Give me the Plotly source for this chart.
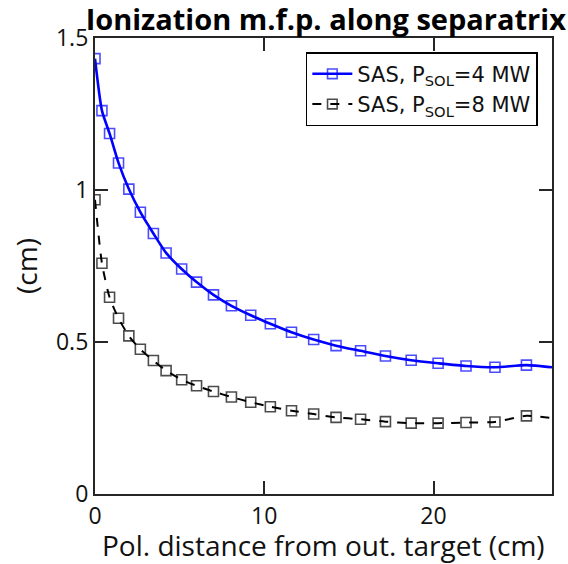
import plotly.graph_objects as go

x_pos = [0.0, 0.41, 0.86, 1.39, 2.0, 2.68, 3.45, 4.2, 5.12, 6.0, 7.0, 8.06, 9.2,
         10.36, 11.61, 12.92, 14.24, 15.69, 17.16, 18.68, 20.27, 21.92, 23.63, 25.49, 27.0]
y_4mw = [1.432, 1.261, 1.186, 1.089, 1.003, 0.927, 0.857, 0.793, 0.740, 0.697, 0.655,
         0.619, 0.588, 0.560, 0.532, 0.508, 0.488, 0.471, 0.454, 0.440, 0.430, 0.421,
         0.417, 0.424, 0.417]
y_8mw = [0.968, 0.759, 0.647, 0.578, 0.520, 0.476, 0.439, 0.406, 0.376, 0.356, 0.337,
         0.319, 0.302, 0.287, 0.274, 0.263, 0.252, 0.246, 0.238, 0.233, 0.233, 0.235,
         0.237, 0.257, 0.250]
series_names = ["SAS, P<sub>SOL</sub>=4 MW", "SAS, P<sub>SOL</sub>=8 MW"]
x_ticks = [0, 10, 20]
y_ticks = [0, 0.5, 1, 1.5]
y_ticklabels = ["0", "0.5", "1", "1.5"]
x_title = "Pol. distance from out. target (cm)"

marker_sizes = [10] * (len(x_pos) - 1) + [0]

FONT = "Open Sans"
AX = "#262626"

fig = go.Figure()
fig.add_trace(go.Scatter(
    x=x_pos, y=y_4mw, name=series_names[0], mode="lines+markers",
    line=dict(color="#0000ff", width=2.6, shape="spline", smoothing=0.6),
    marker=dict(symbol="square-open", size=marker_sizes, color="#0000ff",
                line=dict(width=1.6, color="#0000ff")),
))
fig.add_trace(go.Scatter(
    x=x_pos, y=y_8mw, name=series_names[1], mode="lines+markers",
    line=dict(color="black", width=2, dash="dash", shape="spline", smoothing=0.6),
    marker=dict(symbol="square-open", size=marker_sizes, color="black",
                line=dict(width=1.6, color="black")),
))

axis_common = dict(
    showline=True, mirror="ticks", linecolor=AX, linewidth=2.2,
    ticks="inside", ticklen=13, tickwidth=2, tickcolor=AX,
    showgrid=False, zeroline=False, automargin=False,
    tickfont=dict(family=FONT, size=23, color="#111111"),
)

fig.update_layout(
    width=568, height=564,
    margin=dict(l=95, r=16, t=38, b=70),
    paper_bgcolor="white", plot_bgcolor="white",
    title=dict(text="<b>Ionization m.f.p. along separatrix</b>",
               font=dict(family=FONT, size=29, color="black"),
               x=0.505, xref="paper", xanchor="center",
               y=1, yref="paper", yanchor="bottom", pad=dict(b=8)),
    xaxis=dict(range=[0, 27], tickvals=x_ticks, ticktext=[str(t) for t in x_ticks],
               **axis_common),
    yaxis=dict(range=[0, 1.5], tickvals=y_ticks, ticktext=y_ticklabels,
               title=dict(text="(cm)", font=dict(family=FONT, size=28, color="#111111"),
                          standoff=10),
               **axis_common),
    legend=dict(x=0.969, y=0.969, xanchor="right", yanchor="top",
                bgcolor="white", bordercolor="black", borderwidth=1.5,
                font=dict(family="DejaVu Sans", size=21, color="#111111"),
                tracegroupgap=0, itemwidth=40),
    showlegend=True,
    annotations=[dict(text=x_title, xref="paper", yref="paper", x=0.5, y=-0.112,
                      xanchor="center", yanchor="middle", showarrow=False,
                      font=dict(family=FONT, size=28, color="#111111"))],
)

fig.write_html("out.html")
